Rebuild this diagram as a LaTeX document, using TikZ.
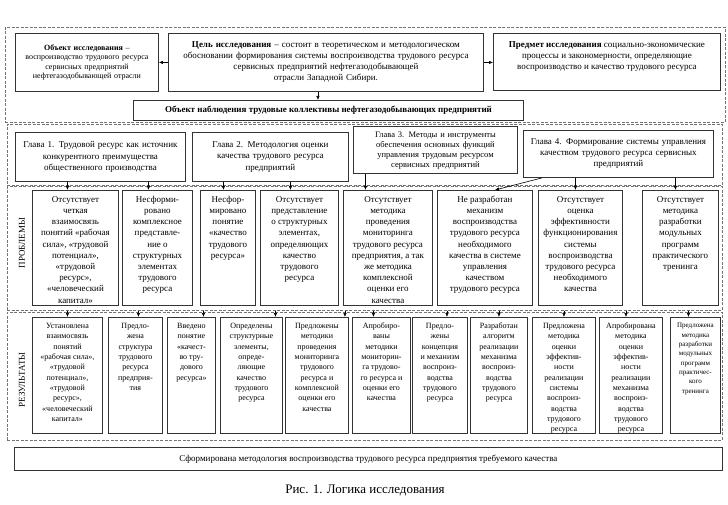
\documentclass[tikz,border=0pt]{standalone}
\usepackage{fontspec}
\setmainfont{Liberation Serif}
\usetikzlibrary{arrows.meta}
\newcommand\tbx[3]{\parbox[c][#2][t]{#1}{\centering\vspace*{2pt}\strut #3}}
\begin{document}
\begin{tikzpicture}[x=1pt,y=-1pt,
  box/.style={draw=black!80, line width=0.9pt, inner sep=2pt, anchor=north west, fill=white},
  cbox/.style={box, align=center},
  frame/.style={draw=black!55, dash pattern=on 3pt off 1.5pt, line width=0.7pt, anchor=north west, inner sep=0pt},
  arr/.style={-{Latex[length=4pt,width=3.5pt]}, line width=0.6pt, black},
  pf/.style={font=\fontsize{9}{11.2}\selectfont},
  rf/.style={font=\fontsize{8}{10.3}\selectfont},
  vlab/.style={rotate=90, font=\fontsize{9}{11}\selectfont}]
\useasboundingbox (0,0) rectangle (728,505);
% frames
\node[frame, minimum width=720pt, minimum height=95pt] (F0) at (5,27) {};
\node[frame, minimum width=715pt, minimum height=61pt] (FC) at (7,124) {};
\node[frame, minimum width=715pt, minimum height=123.5pt] (FP) at (7,186.5) {};
\node[frame, minimum width=715pt, minimum height=128pt] (FR) at (7,312) {};
% top boxes
\node[cbox, minimum width=143pt, minimum height=58pt, text width=137pt, font=\fontsize{8}{9.5}\selectfont] (B1) at (15,33)
 {\textbf{Объект исследования} –\\воспроизводство трудового ресурса\\сервисных предприятий\\нефтегазодобывающей отрасли};
\node[cbox, minimum width=315pt, minimum height=58pt, text width=309pt, font=\fontsize{9}{11}\selectfont] (B2) at (168,33)
 {\textbf{Цель исследования} – состоит в теоретическом и  методологическом\\обосновании  формирования системы воспроизводства трудового ресурса\\сервисных предприятий нефтегазодобывающей\\отрасли Западной Сибири.};
\node[box, font=\fontsize{9}{11}\selectfont] (B3) at (493,33)
 {\parbox[c][53pt][t]{223pt}{\centering\vspace*{4pt}\strut\textbf{Предмет исследования} социально-экономические\\процессы и закономерности, определяющие\\воспроизводство и качество трудового ресурса}};
\node[box, minimum width=390pt, minimum height=20pt, font=\bfseries\fontsize{9}{11}\selectfont] (OB) at (133,100)
 {Объект наблюдения трудовые коллективы нефтегазодобывающих предприятий};
% chapters
\node[cbox, minimum width=170pt, minimum height=49pt, text width=164pt, font=\fontsize{9}{11.5}\selectfont] (C1) at (15,132)
 {Глава 1. Трудовой ресурс как источник\\конкурентного преимущества\\общественного производства};
\node[cbox, minimum width=156pt, minimum height=49pt, text width=150pt, font=\fontsize{9}{11.5}\selectfont] (C2) at (192,132)
 {Глава 2. Методология оценки\\качества трудового ресурса\\предприятий};
\node[cbox, minimum width=164pt, minimum height=46.5pt, text width=158pt, font=\fontsize{8.5}{10}\selectfont] (C3) at (353,126.5)
 {Глава 3. Методы и инструменты\\обеспечения основных функций\\управления трудовым ресурсом\\сервисных предприятий};
\node[cbox, minimum width=190pt, minimum height=47pt, text width=184pt, font=\fontsize{9}{11}\selectfont] (C4) at (523,130)
 {Глава 4. Формирование системы управления\\качеством трудового ресурса сервисных\\предприятий};
% problems
\node[vlab] (LP) at (22,243) {ПРОБЛЕМЫ};
\node[box,pf] (P1) at (32,190) {\tbx{82pt}{111pt}{Отсутствует\\четкая\\взаимосвязь\\понятий «рабочая\\сила», «трудовой\\потенциал»,\\«трудовой\\ресурс»,\\«человеческий\\капитал»}};
\node[box,pf] (P2) at (122,190) {\tbx{66pt}{111pt}{Несформи-\\ровано\\комплексное\\представле-\\ние о\\структурных\\элементах\\трудового\\ресурса}};
\node[box,pf] (P3) at (200,190) {\tbx{51pt}{111pt}{Несфор-\\мировано\\понятие\\«качество\\трудового\\ресурса»}};
\node[box,pf] (P4) at (260,190) {\tbx{74pt}{111pt}{Отсутствует\\представление\\о структурных\\элементах,\\определяющих\\качество\\трудового\\ресурса}};
\node[box,pf] (P5) at (343,190) {\tbx{85pt}{111pt}{Отсутствует\\методика\\проведения\\мониторинга\\трудового ресурса\\предприятия, а так\\же методика\\комплексной\\оценки его\\качества}};
\node[box,pf] (P6) at (437,190) {\tbx{91pt}{111pt}{Не разработан\\механизм\\воспроизводства\\трудового ресурса\\необходимого\\качества в системе\\управления\\качеством\\трудового ресурса}};
\node[box,pf] (P7) at (538,190) {\tbx{80pt}{111pt}{Отсутствует\\оценка\\эффективности\\функционирования\\системы\\воспроизводства\\трудового ресурса\\необходимого\\качества}};
\node[box,pf] (P8) at (642,190) {\tbx{72pt}{111pt}{Отсутствует\\методика\\разработки\\модульных\\программ\\практического\\тренинга}};
% results
\node[vlab] (LR) at (22,380) {РЕЗУЛЬТАТЫ};
\node[box,rf] (R1) at (32,317) {\tbx{66pt}{112pt}{Установлена\\взаимосвязь\\понятий\\«рабочая сила»,\\«трудовой\\потенциал»,\\«трудовой\\ресурс»,\\«человеческий\\капитал»}};
\node[box,rf] (R2) at (108,317) {\tbx{50pt}{112pt}{Предло-\\жена\\структура\\трудового\\ресурса\\предприя-\\тия}};
\node[box,rf] (R3) at (167,317) {\tbx{44pt}{112pt}{Введено\\понятие\\«качест-\\во тру-\\дового\\ресурса»}};
\node[box,rf] (R4) at (220,317) {\tbx{58pt}{112pt}{Определены\\структурные\\элементы,\\опреде-\\ляющие\\качество\\трудового\\ресурса}};
\node[box,rf] (R5) at (285,317) {\tbx{59pt}{112pt}{Предложены\\методики\\проведения\\мониторинга\\трудового\\ресурса и\\комплексной\\оценки его\\качества}};
\node[box,rf] (R6) at (352,317) {\tbx{54pt}{112pt}{Апробиро-\\ваны\\методики\\мониторин-\\га трудово-\\го ресурса и\\оценки его\\качества}};
\node[box,rf] (R7) at (412,317) {\tbx{51pt}{112pt}{Предло-\\жены\\концепция\\и механизм\\воспроиз-\\водства\\трудового\\ресурса}};
\node[box,rf] (R8) at (470,317) {\tbx{53pt}{112pt}{Разработан\\алгоритм\\реализации\\механизма\\воспроиз-\\водства\\трудового\\ресурса}};
\node[box,rf] (R9) at (532,317) {\tbx{59pt}{112pt}{Предложена\\методика\\оценки\\эффектив-\\ности\\реализации\\системы\\воспроиз-\\водства\\трудового\\ресурса}};
\node[box,rf] (R10) at (599,317) {\tbx{59pt}{112pt}{Апробирована\\методика\\оценки\\эффектив-\\ности\\реализации\\механизма\\воспроиз-\\водства\\трудового\\ресурса}};
\node[box,font=\fontsize{7}{9.3}\selectfont] (R11) at (670,317) {\tbx{46pt}{112pt}{Предложена\\методика\\разработки\\модульных\\программ\\практичес-\\кого\\тренинга}};
% bottom
\node[box, line width=0.7pt, minimum width=708pt, minimum height=23pt, font=\fontsize{9}{10}\selectfont] (BOT) at (14,447)
 {Сформирована методология воспроизводства трудового ресурса предприятия требуемого качества};
\node[font=\fontsize{13}{15}\selectfont] (CAP) at (365,490) {Рис. 1. Логика исследования};
% arrows top
\draw[arr] (B2.west) -- (B1.east);
\draw[arr] (B2.east) -- (B2.east -| B3.west);
\draw[arr] ([xshift=-8pt]B2.south) -- ([xshift=-8pt]B2.south |- OB.north);
% chapters -> problems
\draw[arr] ([xshift=-8pt]P1.north |- C1.south) -- ([xshift=-8pt]P1.north);
\draw[arr] ([xshift=-9pt]P2.north |- C1.south) -- ([xshift=-9pt]P2.north);
\draw[arr] ([xshift=-4.5pt]P3.north |- C2.south) -- ([xshift=-4.5pt]P3.north);
\draw[arr] ([xshift=-9pt]P4.north |- C2.south) -- ([xshift=-9pt]P4.north);
\draw[arr] ([xshift=-22.5pt]P5.north |- C3.south) -- ([xshift=-22.5pt]P5.north);
\draw[arr] ([xshift=19pt]C4.south west) -- ([xshift=58pt]P6.north west);
\draw[arr] ([xshift=-5pt]P7.north |- C4.south) -- ([xshift=-5pt]P7.north);
\draw[arr] ([xshift=-5pt]P8.north |- C4.south) -- ([xshift=-5pt]P8.north);
% problems -> results
\foreach \r/\s in {R1/0,R2/3,R3/12,R4/24,R5/28,R6/-8,R7/7,R8/0,R9/0,R10/-5,R11/-7}
  \draw[arr] ([xshift=\s pt]\r.north |- FP.south) -- ([xshift=\s pt]\r.north);
\end{tikzpicture}
\end{document}
